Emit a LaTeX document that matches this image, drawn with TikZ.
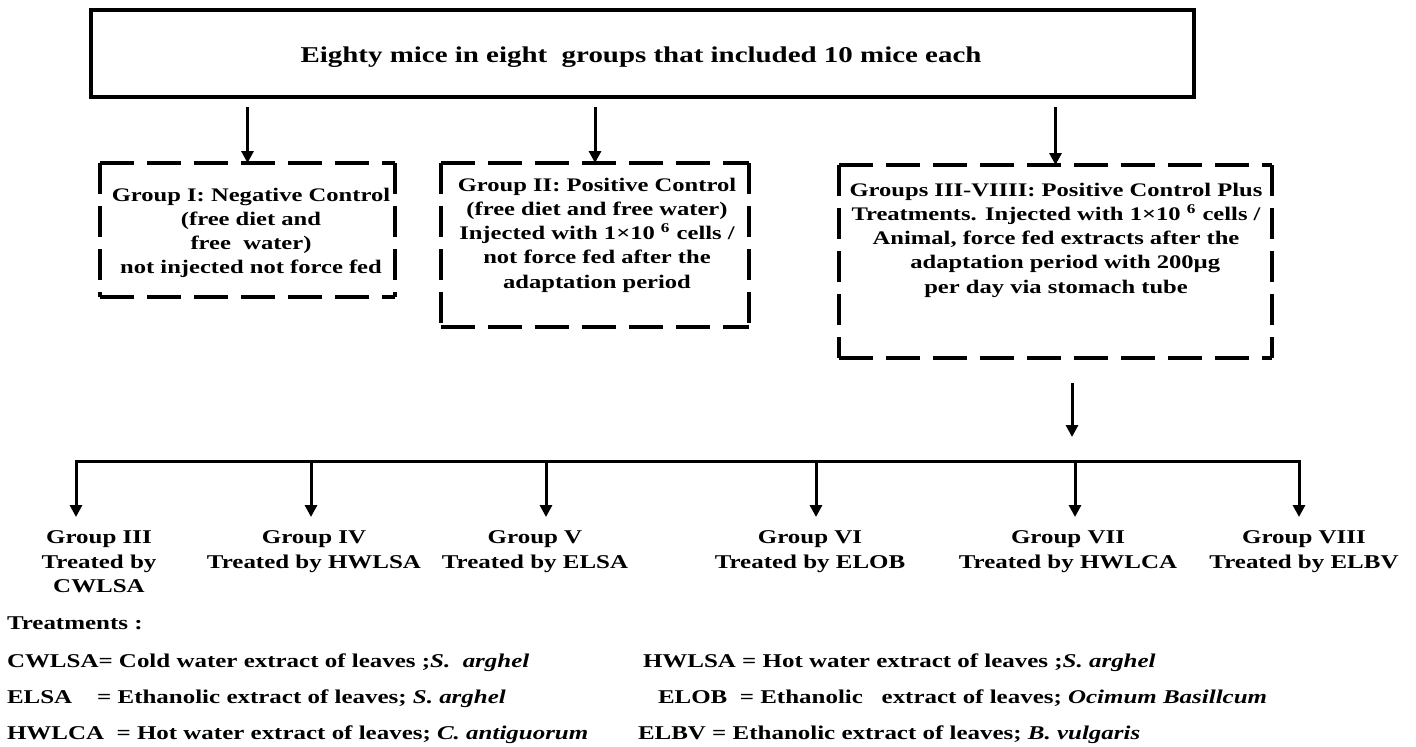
\documentclass[tikz,border=0pt]{standalone}
\usepackage{fontspec}
\setmainfont{Liberation Serif}[FakeStretch=1.28]
\usetikzlibrary{arrows.meta,calc}
\begin{document}
\begin{tikzpicture}[x=0.5pt,y=-0.5pt,
  every node/.style={inner sep=0pt,outer sep=0pt},
  frame/.style={draw,line width=2pt},
  hdash/.style={line width=1.85pt,dash pattern=on 17pt off 6.5pt},
  vdash/.style={line width=1.85pt,dash pattern=on 15.5pt off 6pt},
  arr/.style={line width=1.5pt,-{Triangle[length=6pt,width=6pt]}},
  arrboth/.style={line width=1.5pt,line join=miter,{Triangle[length=6pt,width=6pt]}-{Triangle[length=6pt,width=6pt]}},
  boxtext/.style={align=center,font=\bfseries\fontsize{9.6pt}{12.1pt}\selectfont},
  grplabel/.style={align=center,anchor=north,font=\bfseries\fontsize{9.75pt}{12.2pt}\selectfont},
  legend/.style={anchor=base west,font=\bfseries\fontsize{9.75pt}{12pt}\selectfont}
]
\useasboundingbox (0,0) rectangle (1416,746);
\newcommand\dashframe[1]{%
  \draw[hdash] (#1.north west) -- (#1.north east);
  \draw[hdash] (#1.south west) -- (#1.south east);
  \draw[vdash] (#1.north west) -- (#1.south west);
  \draw[vdash] (#1.north east) -- (#1.south east);}

% top box
\node[frame,minimum width=551.5pt,minimum height=43.5pt] (top) at (642.5,53.5) {};
\node[anchor=base,font=\bfseries\fontsize{11.3pt}{13pt}\selectfont] (title) at (641,62)
  {Eighty mice in eight\ \ groups that included 10 mice each};

% group boxes
\node[minimum width=147.5pt,minimum height=67pt] (g1) at (247.5,230) {};
\node[minimum width=154pt,minimum height=82pt] (g2) at (595,245) {};
\node[minimum width=216.5pt,minimum height=96.5pt] (g3) at (1055.5,261.5) {};
\dashframe{g1}
\dashframe{g2}
\dashframe{g3}

\node[boxtext,anchor=north] (g1t) at (251,188)
  {Group I: Negative Control\\(free diet and\\free\ \ water)\\not injected not force fed};
\node[boxtext,anchor=north] (g2t) at (597,178)
  {Group II: Positive Control\\(free diet and free water)\\Injected with 1×10 \textsuperscript{6} cells /\\not force fed after the\\adaptation period};
\node[boxtext,anchor=north] (g3t) at (1056,183)
  {Groups III-VIIII: Positive Control Plus\\Treatments. Injected with 1×10 \textsuperscript{6} cells /\\Animal, force fed extracts after the\\\ \ \ adaptation period with 200µg\\per day via stomach tube};

% arrows from top box
\draw[arr] ($(top.south -| g1.north)+(0,10)$) -- (g1.north);
\draw[arr] ($(top.south -| g2.north)+(0,10)$) -- (g2.north);
\draw[arr] ($(top.south -| g3.north)+(0,10)$) -- (g3.north);

% bus
\coordinate (busL) at (76,461);
\coordinate (busR) at (1299,461);
\coordinate (drop) at (1072,437);
\coordinate (t3) at (76,517);
\coordinate (t4) at (311,517);
\coordinate (t5) at (546,517);
\coordinate (t6) at (816,517);
\coordinate (t7) at (1075,517);
\coordinate (t8) at (1299,517);
\draw[arr] ($(g3.south -| drop)+(0,25)$) -- (drop);
\draw[arrboth] (t3) -- (busL) -- (busR) -- (t8);
\draw[arr] (busL -| t4) -- (t4);
\draw[arr] (busL -| t5) -- (t5);
\draw[arr] (busL -| t6) -- (t6);
\draw[arr] (busL -| t7) -- (t7);

% group labels
\node[grplabel] (l3) at (99,531) {Group III\\Treated by\\CWLSA};
\node[grplabel] (l4) at (314,531) {Group IV\\Treated by HWLSA};
\node[grplabel] (l5) at (535,531) {Group V\\Treated by ELSA};
\node[grplabel] (l6) at (810,531) {Group VI\\Treated by ELOB};
\node[grplabel] (l7) at (1068,531) {Group VII\\Treated by HWLCA};
\node[grplabel] (l8) at (1304,531) {Group VIII\\Treated by ELBV};

% legend
\node[legend] (trt) at (7,629) {Treatments :};
\node[legend] (c1) at (7,667) {CWLSA= Cold water extract of leaves ;\textit{S.\ \ arghel}};
\node[legend] (c2) at (7,703) {ELSA\ \ \ \ = Ethanolic extract of leaves; \textit{S. arghel}};
\node[legend] (c3) at (7,739) {HWLCA\ \ = Hot water extract of leaves; \textit{C. antiguorum}};
\node[legend] (r1) at (643,667) {HWLSA = Hot water extract of leaves ;\textit{S. arghel}};
\node[legend] (r2) at (658,703) {ELOB\ \ = Ethanolic\ \ \ extract of leaves; \textit{Ocimum Basillcum}};
\node[legend] (r3) at (638,739) {ELBV = Ethanolic extract of leaves; \textit{B. vulgaris}};
\end{tikzpicture}
\end{document}
